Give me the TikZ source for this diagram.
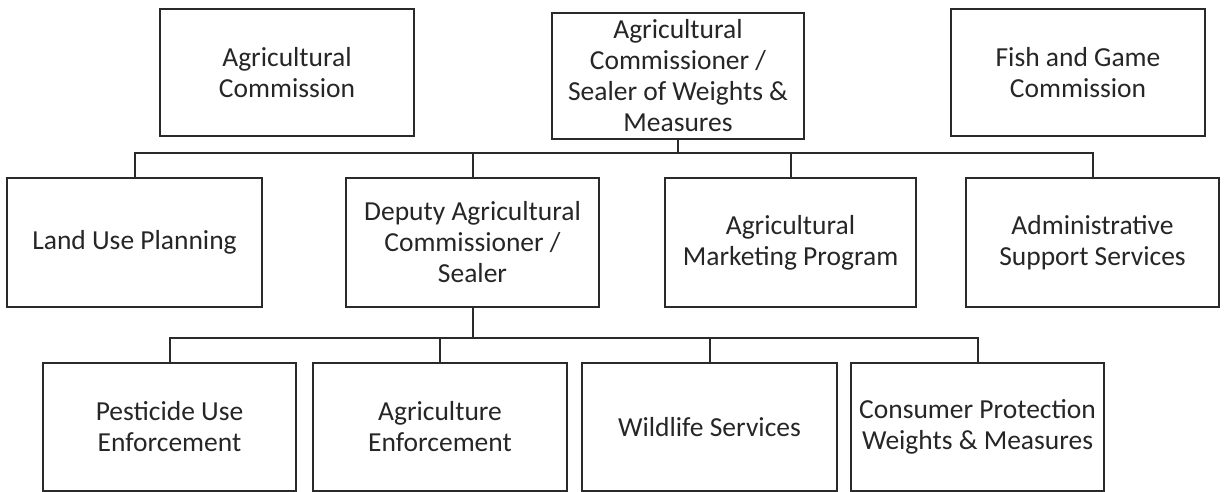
\documentclass[tikz,border=0pt]{standalone}
\usepackage{fontspec}
\setmainfont{Carlito}
\definecolor{linec}{HTML}{2A2A2A}
\definecolor{textc}{HTML}{262626}
\begin{document}
\begin{tikzpicture}[x=1pt,y=-1pt,
  box/.style={draw=linec, line width=1.8pt, rectangle, inner sep=0pt,
    align=center, text=textc, font=\fontsize{27.5}{31}\selectfont},
  conn/.style={draw=linec, line width=2pt}]
\fill[white] (0,0) rectangle (1225,492);
\useasboundingbox (0,0) rectangle (1225,492);
% row 1
\node[box, minimum width=254pt, minimum height=127pt] (agcom) at (287,72.5) {Agricultural\\Commission};
\node[box, minimum width=252pt, minimum height=126pt] (comm) at (678,76) {Agricultural\\Commissioner /\\Sealer of Weights \&\\Measures};
\node[box, minimum width=254pt, minimum height=127pt] (fish) at (1078,72.5) {Fish and Game\\Commission};
% row 2
\node[box, minimum width=255pt, minimum height=129pt] (land) at (134.5,242.5) {Land Use Planning};
\node[box, minimum width=253pt, minimum height=129pt] (deputy) at (472.5,242.5) {Deputy Agricultural\\Commissioner /\\Sealer};
\node[box, minimum width=251pt, minimum height=129pt] (market) at (790.5,242.5) {Agricultural\\Marketing Program};
\node[box, minimum width=253pt, minimum height=129pt] (admin) at (1092.5,242.5) {Administrative\\Support Services};
% row 3
\node[box, minimum width=253pt, minimum height=128pt] (pest) at (169.5,427) {Pesticide Use\\Enforcement};
\node[box, minimum width=254pt, minimum height=128pt] (agenf) at (440,427) {Agriculture\\Enforcement};
\node[box, minimum width=255pt, minimum height=128pt] (wild) at (709.5,427) {Wildlife Services};
\node[box, minimum width=253pt, minimum height=128pt] (cons) at (977.5,427) {Consumer Protection\\Weights \& Measures};
% buses
\coordinate (bus1) at (678,153);
\coordinate (bus2) at (472.5,338);
\draw[conn] (comm.south) -- (bus1);
\draw[conn] (land.north) |- (bus1) -| (admin.north);
\draw[conn] (deputy.north) -- (deputy.north |- bus1);
\draw[conn] (market.north) -- (market.north |- bus1);
\draw[conn] (deputy.south) -- (bus2);
\draw[conn] (pest.north) |- (bus2) -| (cons.north);
\draw[conn] (agenf.north) -- (agenf.north |- bus2);
\draw[conn] (wild.north) -- (wild.north |- bus2);
\end{tikzpicture}
\end{document}
